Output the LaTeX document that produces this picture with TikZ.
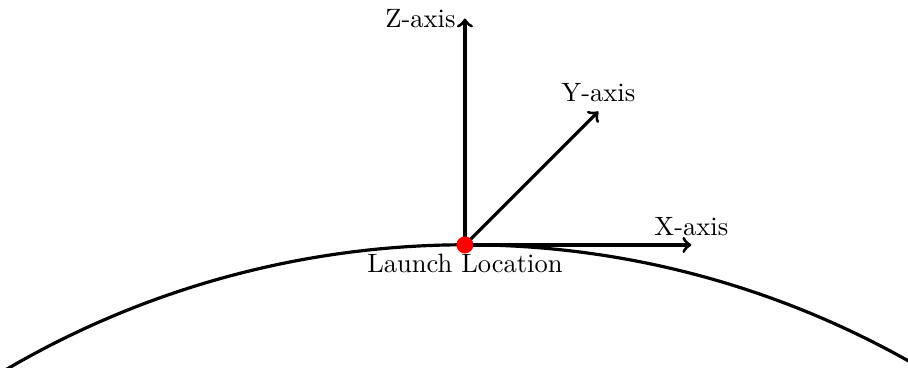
\documentclass[tikz,border=0pt]{standalone}
\begin{document}
\begin{tikzpicture}[
  axis/.style={very thick,->},
  ground/.style={very thick},
  dot/.style={circle,fill=red,inner sep=0pt,minimum size=6.4pt}
]
\useasboundingbox (-6.16,-1.63) rectangle (5.87,3.245);
\draw[ground] ([shift={(0,-12)}]150:12) arc[start angle=150,end angle=30,radius=12];
\coordinate (o) at (0,0);
\coordinate (xe) at (3,0);
\coordinate (ye) at (45:2.5);
\coordinate (ze) at (0,3);
\draw[axis] (o) -- (xe);
\draw[axis] (o) -- (ye);
\draw[axis] (o) -- (ze);
\node[above] (xl) at (xe) {X-axis};
\node[above] (yl) at (ye) {Y-axis};
\node[left] (zl) at (ze) {Z-axis};
\node[dot] (lo) at (o) {};
\node[below] (ll) at (o) {Launch Location};
\end{tikzpicture}
\end{document}
